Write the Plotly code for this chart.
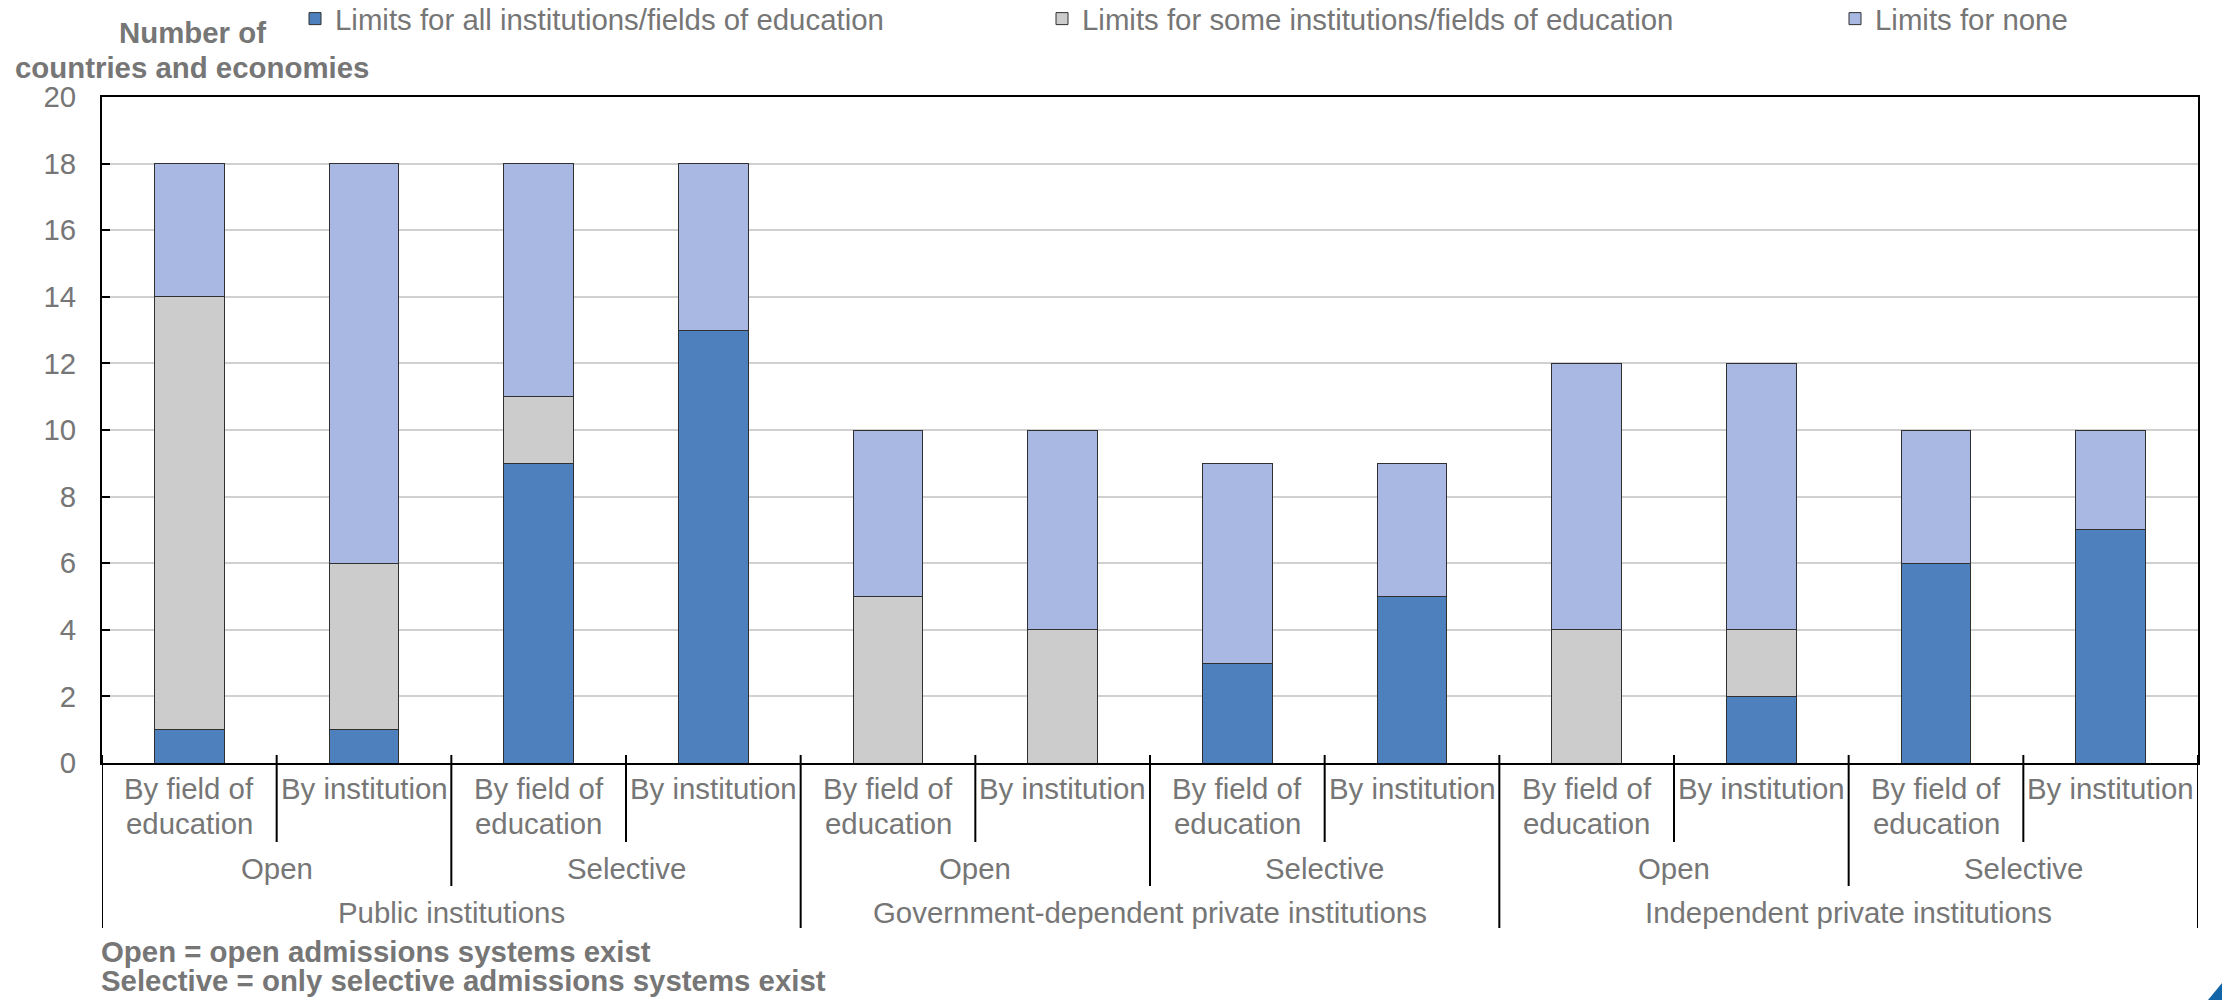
import plotly.graph_objects as go

# ---- data ----
sectors = ["Public institutions", "Government-dependent private institutions", "Independent private institutions"]
systems = ["Open", "Selective"]
limit_types = ["By field of<br>education", "By institution"]
series_names = ["Limits for all institutions/fields of education",
                "Limits for some institutions/fields of education",
                "Limits for none"]
all_vals = [1, 1, 9, 13, 0, 0, 3, 5, 0, 2, 6, 7]
some_vals = [13, 5, 2, 0, 5, 4, 0, 0, 4, 2, 0, 0]
none_vals = [4, 12, 7, 5, 5, 6, 6, 4, 8, 8, 4, 3]
y_ticks = [0, 2, 4, 6, 8, 10, 12, 14, 16, 18, 20]
y_title = "Number of<br>countries and economies"
notes = ["Open = open admissions systems exist",
         "Selective = only selective admissions systems exist"]

colors = ["#4E80BD", "#CCCCCC", "#A8B8E2"]
TXT = "#767676"
FONT = "Arial, Liberation Sans, sans-serif"
FS = 29.4

W, H = 2222, 1000
PL, PR, PT, PB = 102, 2198, 97, 763   # plot area in pixels
L, R, T, B = PL, W - PR, PT, H - PB
pw, ph = PR - PL, PB - PT

def py(p):  # pixel y -> paper y
    return (PB - p) / ph

def px(p):  # pixel x -> paper x
    return (p - PL) / pw

n_sub = len(limit_types)
n_sys = len(systems)
per_sector = n_sub * n_sys
xs = list(range(len(sectors) * per_sector))

fig = go.Figure()
legends = ["legend", "legend2", "legend3"]
for name, vals, col, lg in zip(series_names, [all_vals, some_vals, none_vals], colors, legends):
    fig.add_trace(go.Bar(
        x=xs, y=vals, name=name, legend=lg,
        marker=dict(color=col, line=dict(color="#303030", width=1)),
        width=0.4,
    ))

def txt(x, y, text, xref="x", xanchor="center", bold=False):
    return dict(x=x, y=y, xref=xref, yref="paper", text=f"<b>{text}</b>" if bold else text,
                showarrow=False, yanchor="middle", xanchor=xanchor,
                font=dict(size=FS, color=TXT, family=FONT))

ann = []
shapes = []
# level 1 labels (one annotation per line)
for i in xs:
    for j, line in enumerate(limit_types[i % n_sub].split("<br>")):
        ann.append(txt(i, py(789 + 34 * j), line))
# level 2 labels
for g in range(len(sectors) * n_sys):
    ann.append(txt(g * n_sub + (n_sub - 1) / 2, py(868), systems[g % n_sys]))
# level 3 labels
for s, name in enumerate(sectors):
    ann.append(txt(s * per_sector + (per_sector - 1) / 2, py(912), name))
# dividers
for k in range(len(xs) + 1):
    xb = k - 0.5
    if k % per_sector == 0:
        yb = 928
    elif k % n_sub == 0:
        yb = 886
    else:
        yb = 842
    shapes.append(dict(type="line", xref="x", yref="paper", x0=xb, x1=xb,
                       y0=py(755), y1=py(yb), line=dict(color="black", width=2)))

# y title
for j, line in enumerate(y_title.split("<br>")):
    ann.append(txt(px(192), py(33 + 34 * j), line, xref="paper", bold=True))
# notes
for j, t in enumerate(notes):
    ann.append(txt(px(99), py(951 + 29 * j), t, xref="paper", xanchor="left", bold=True))

# corner triangle
shapes.append(dict(type="path", xref="paper", yref="paper",
                   path=f"M {px(2222)},{py(983)} L {px(2222)},{py(1000)} L {px(2208)},{py(1000)} Z",
                   fillcolor="#1264A8", line=dict(width=0)))

leg_common = dict(orientation="h", xref="container", yref="container", yanchor="middle", xanchor="left",
                  font=dict(size=FS, color=TXT, family=FONT), bgcolor="rgba(0,0,0,0)",
                  itemclick=False, itemdoubleclick=False)
text_starts = [335, 1082, 1875]
leg_y = 1 - 19 / H

fig.update_layout(
    width=W, height=H,
    margin=dict(l=L, r=R, t=T, b=B, pad=0),
    paper_bgcolor="white", plot_bgcolor="white",
    barmode="stack",
    font=dict(family=FONT, size=FS, color=TXT),
    legend=dict(x=(text_starts[0] - 40) / W, y=leg_y, **leg_common),
    legend2=dict(x=(text_starts[1] - 40) / W, y=leg_y, **leg_common),
    legend3=dict(x=(text_starts[2] - 40) / W, y=leg_y, **leg_common),
    xaxis=dict(range=[-0.5, len(xs) - 0.5], showticklabels=False, ticks="", showgrid=False,
               zeroline=False, showline=True, linecolor="black", linewidth=2, mirror=True),
    yaxis=dict(range=[0, 20], tickvals=y_ticks, showgrid=True, gridcolor="#D0D0D0", gridwidth=2,
               zeroline=False, showline=True, linecolor="black", linewidth=2, mirror=True,
               ticks="inside", ticklen=8, tickcolor="black", tickwidth=2,
               ticklabelstandoff=18,
               tickfont=dict(size=FS, color=TXT, family=FONT)),
    annotations=ann,
    shapes=shapes,
    showlegend=True,
    hovermode=False,
)

# remove the default page margin so the figure sits at the window's top-left corner
fig.write_html("out.html", config={"displayModeBar": False},
               post_script="document.body.style.margin='0px';")
